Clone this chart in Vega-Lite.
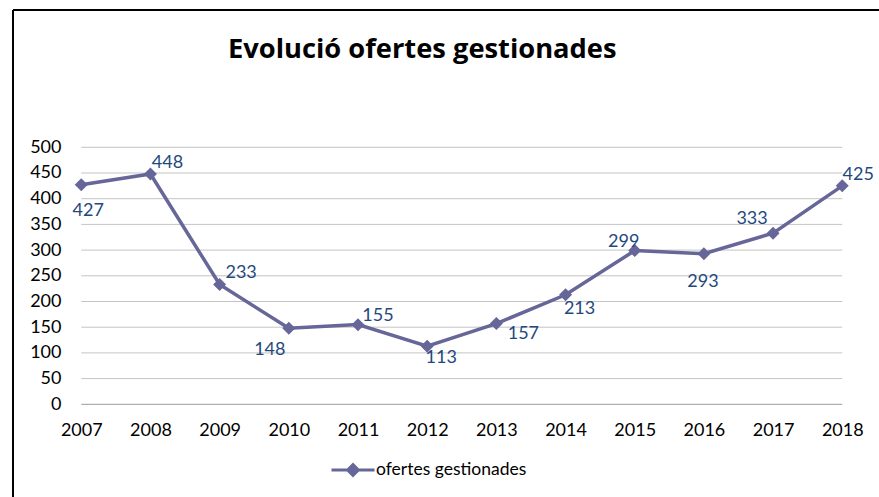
{
  "$schema": "https://vega.github.io/schema/vega-lite/v6.json",
  "autosize": {"type": "none"},
  "width": 866,
  "height": 487,
  "padding": {"left": 13, "top": 10, "right": 0, "bottom": 0},
  "background": "white",
  "config": {"view": {"stroke": null}, "font": "Lato"},
  "title": {"text": "Evolució ofertes gestionades", "font": "Open Sans", "fontSize": 27.3, "fontWeight": "bold", "color": "#000000", "anchor": "start", "frame": "group", "orient": "top", "offset": -50, "dx": 215, "dy": 26, "baseline": "alphabetic"},
  "data": {"values": [
    {"year": 2007, "value": 427},
    {"year": 2008, "value": 448},
    {"year": 2009, "value": 233},
    {"year": 2010, "value": 148},
    {"year": 2011, "value": 155},
    {"year": 2012, "value": 113},
    {"year": 2013, "value": 157},
    {"year": 2014, "value": 213},
    {"year": 2015, "value": 299},
    {"year": 2016, "value": 293},
    {"year": 2017, "value": 333},
    {"year": 2018, "value": 425}
  ]},
  "layer": [
    {
      "data": {"values": [{}]},
      "mark": {"type": "rule", "color": "#000000", "strokeWidth": 2},
      "encoding": {"x": {"datum": 2006.013, "type": "quantitative", "title": null}}
    },
    {
      "data": {"values": [{}]},
      "mark": {"type": "rule", "color": "#000000", "strokeWidth": 2},
      "encoding": {"y": {"datum": 767.1, "type": "quantitative", "title": null}}
    },
    {
      "data": {"values": [{"value": 50}, {"value": 100}, {"value": 150}, {"value": 200}, {"value": 250}, {"value": 300}, {"value": 350}, {"value": 400}, {"value": 450}, {"value": 500}]},
      "mark": {"type": "rule", "color": "#C4C4C4", "strokeWidth": 1},
      "encoding": {
        "y": {"field": "value", "type": "quantitative", "title": null},
        "x": {"datum": 2007, "type": "quantitative", "title": null},
        "x2": {"datum": 2018}
      }
    },
    {
      "data": {"values": [{"value": 0}]},
      "mark": {"type": "rule", "color": "#9A9A9A", "strokeWidth": 1},
      "encoding": {
        "y": {"field": "value", "type": "quantitative", "title": null},
        "x": {"datum": 2007, "type": "quantitative", "title": null},
        "x2": {"datum": 2018}
      }
    },
    {
      "encoding": {
        "x": {"field": "year", "type": "quantitative", "title": null,
          "scale": {"domain": [2006.013, 2018.531], "nice": false, "zero": false},
          "axis": {"values": [2007, 2008, 2009, 2010, 2011, 2012, 2013, 2014, 2015, 2016, 2017, 2018], "format": "d", "title": null, "domain": false, "ticks": false, "grid": false, "offset": -92.7, "labelPadding": 17, "labelFontSize": 18, "labelFont": "Lato", "labelColor": "#000000", "labelFlush": false, "labelOverlap": false}},
        "y": {"field": "value", "type": "quantitative", "title": null,
          "scale": {"domain": [-180.35, 767.1], "nice": false, "zero": false},
          "axis": {"values": [0, 50, 100, 150, 200, 250, 300, 350, 400, 450, 500], "title": null, "domain": false, "ticks": false, "grid": false, "offset": -68, "labelPadding": 20, "labelFontSize": 18, "labelFont": "Lato", "labelColor": "#000000", "labelFlush": false, "labelOverlap": false}}
      },
      "layer": [
        {
          "mark": {"type": "line", "strokeWidth": 3.5},
          "encoding": {
            "color": {"datum": "ofertes gestionades", "type": "nominal",
              "scale": {"range": ["#666699"]},
              "legend": {"orient": "none", "legendX": 317, "legendY": 437, "title": null, "symbolType": "M-1,0L1,0M-0.25,0L0,-0.25L0.25,0L0,0.25Z", "symbolSize": 1849, "symbolStrokeWidth": 3, "symbolFillColor": "#666699", "symbolStrokeColor": "#666699", "labelFontSize": 17.5, "labelFont": "Lato", "labelColor": "#000000", "padding": 0, "labelOffset": 0}}
          }
        },
        {
          "mark": {"type": "point", "shape": "diamond", "filled": true, "size": 169, "opacity": 1},
          "encoding": {
            "color": {"datum": "ofertes gestionades", "type": "nominal"}
          }
        },
        {"transform": [{"filter": "datum.year == 2007"}], "mark": {"type": "text", "dx": 7, "dy": 26.5, "align": "center", "baseline": "middle", "fontSize": 18, "font": "Lato", "color": "#1F497D"}, "encoding": {"text": {"field": "value"}}},
        {"transform": [{"filter": "datum.year == 2008"}], "mark": {"type": "text", "dx": 17, "dy": -11.5, "align": "center", "baseline": "middle", "fontSize": 18, "font": "Lato", "color": "#1F497D"}, "encoding": {"text": {"field": "value"}}},
        {"transform": [{"filter": "datum.year == 2009"}], "mark": {"type": "text", "dx": 21.5, "dy": -12, "align": "center", "baseline": "middle", "fontSize": 18, "font": "Lato", "color": "#1F497D"}, "encoding": {"text": {"field": "value"}}},
        {"transform": [{"filter": "datum.year == 2010"}], "mark": {"type": "text", "dx": -19, "dy": 21.5, "align": "center", "baseline": "middle", "fontSize": 18, "font": "Lato", "color": "#1F497D"}, "encoding": {"text": {"field": "value"}}},
        {"transform": [{"filter": "datum.year == 2011"}], "mark": {"type": "text", "dx": 20, "dy": -9, "align": "center", "baseline": "middle", "fontSize": 18, "font": "Lato", "color": "#1F497D"}, "encoding": {"text": {"field": "value"}}},
        {"transform": [{"filter": "datum.year == 2012"}], "mark": {"type": "text", "dx": 14, "dy": 12, "align": "center", "baseline": "middle", "fontSize": 18, "font": "Lato", "color": "#1F497D"}, "encoding": {"text": {"field": "value"}}},
        {"transform": [{"filter": "datum.year == 2013"}], "mark": {"type": "text", "dx": 27, "dy": 10, "align": "center", "baseline": "middle", "fontSize": 18, "font": "Lato", "color": "#1F497D"}, "encoding": {"text": {"field": "value"}}},
        {"transform": [{"filter": "datum.year == 2014"}], "mark": {"type": "text", "dx": 14, "dy": 14, "align": "center", "baseline": "middle", "fontSize": 18, "font": "Lato", "color": "#1F497D"}, "encoding": {"text": {"field": "value"}}},
        {"transform": [{"filter": "datum.year == 2015"}], "mark": {"type": "text", "dx": -11, "dy": -9, "align": "center", "baseline": "middle", "fontSize": 18, "font": "Lato", "color": "#1F497D"}, "encoding": {"text": {"field": "value"}}},
        {"transform": [{"filter": "datum.year == 2016"}], "mark": {"type": "text", "dx": -1, "dy": 28.5, "align": "center", "baseline": "middle", "fontSize": 18, "font": "Lato", "color": "#1F497D"}, "encoding": {"text": {"field": "value"}}},
        {"transform": [{"filter": "datum.year == 2017"}], "mark": {"type": "text", "dx": -21, "dy": -14.5, "align": "center", "baseline": "middle", "fontSize": 18, "font": "Lato", "color": "#1F497D"}, "encoding": {"text": {"field": "value"}}},
        {"transform": [{"filter": "datum.year == 2018"}], "mark": {"type": "text", "dx": 16, "dy": -10.5, "align": "center", "baseline": "middle", "fontSize": 18, "font": "Lato", "color": "#1F497D"}, "encoding": {"text": {"field": "value"}}}
      ]
    }
  ]
}
